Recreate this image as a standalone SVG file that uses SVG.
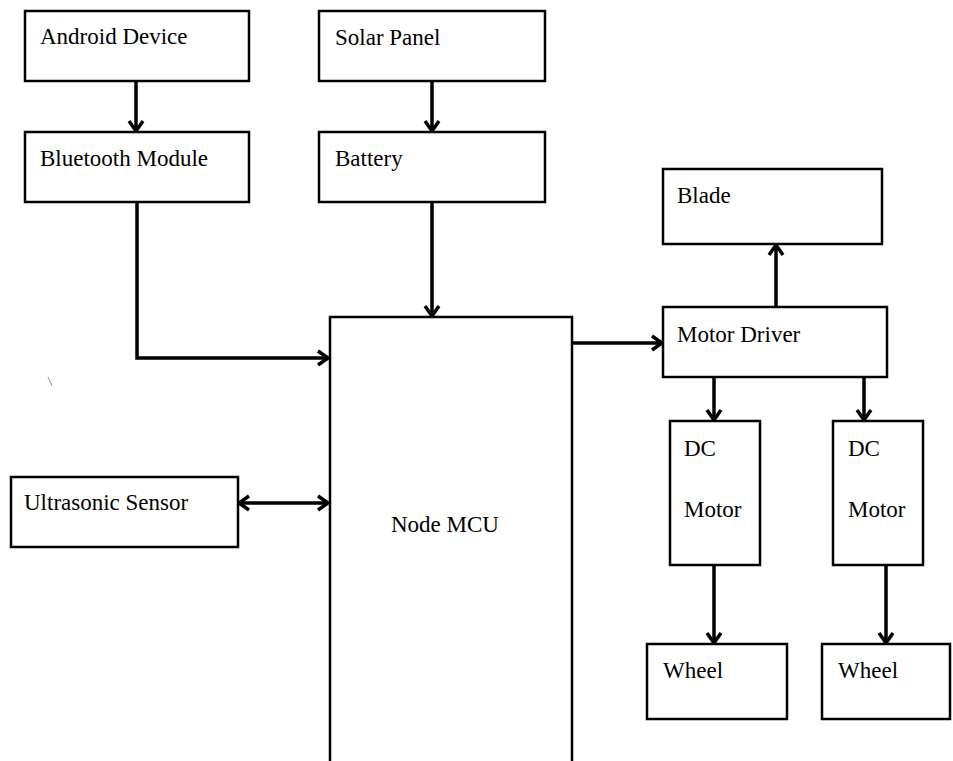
<svg xmlns="http://www.w3.org/2000/svg" width="953" height="761" viewBox="0 0 953 761">
<style>
.box{fill:#fff;stroke:#000;stroke-width:2.5}
.lbl{font-family:'Liberation Serif','DejaVu Serif',serif;font-size:23px;fill:#000}
.con{fill:none;stroke:#000;stroke-width:3.5}
</style>
<defs>
<marker id="arr" markerUnits="userSpaceOnUse" markerWidth="16" markerHeight="18" viewBox="0 0 16 18" refX="14" refY="9" orient="auto-start-reverse">
<path d="M4,2 L14,9 L4,16" fill="none" stroke="#000" stroke-width="3.5" stroke-linejoin="miter"/>
</marker>
</defs>
<rect width="953" height="761" fill="#fff"/>
<g id="android"><rect class="box" x="25" y="11" width="224" height="70"/><text class="lbl" x="40" y="44" font-family="Liberation Serif">Android Device</text></g>
<g id="bluetooth"><rect class="box" x="25" y="132" width="224" height="70"/><text class="lbl" x="40" y="166">Bluetooth Module</text></g>
<g id="solar"><rect class="box" x="319" y="11" width="226" height="70"/><text class="lbl" x="335" y="45">Solar Panel</text></g>
<g id="battery"><rect class="box" x="319" y="132" width="226" height="70"/><text class="lbl" x="335" y="166">Battery</text></g>
<g id="nodemcu"><rect class="box" x="330" y="317" width="242" height="460"/><text class="lbl" x="391" y="532">Node MCU</text></g>
<g id="ultrasonic"><rect class="box" x="11" y="477" width="227" height="70"/><text class="lbl" x="24" y="510">Ultrasonic Sensor</text></g>
<g id="blade"><rect class="box" x="663" y="169" width="219" height="75"/><text class="lbl" x="677" y="203">Blade</text></g>
<g id="motordriver"><rect class="box" x="663" y="307" width="224" height="70"/><text class="lbl" x="677" y="342">Motor Driver</text></g>
<g id="dcmotor1"><rect class="box" x="670" y="421" width="90" height="144"/><text class="lbl" x="684" y="456">DC</text><text class="lbl" x="684" y="517">Motor</text></g>
<g id="dcmotor2"><rect class="box" x="833" y="421" width="90" height="144"/><text class="lbl" x="848" y="456">DC</text><text class="lbl" x="848" y="517">Motor</text></g>
<g id="wheel1"><rect class="box" x="647" y="644" width="140" height="75"/><text class="lbl" x="663" y="678">Wheel</text></g>
<g id="wheel2"><rect class="box" x="822" y="644" width="128" height="75"/><text class="lbl" x="838" y="678">Wheel</text></g>
<g id="connectors">
<line class="con" x1="136" y1="81" x2="136" y2="131" marker-end="url(#arr)"/>
<line class="con" x1="432" y1="81" x2="432" y2="131" marker-end="url(#arr)"/>
<line class="con" x1="432" y1="202" x2="432" y2="316" marker-end="url(#arr)"/>
<polyline class="con" points="137,202 137,358 328,358" marker-end="url(#arr)"/>
<line class="con" x1="239" y1="503" x2="328" y2="503" marker-start="url(#arr)" marker-end="url(#arr)"/>
<line class="con" x1="572" y1="343" x2="662" y2="343" marker-end="url(#arr)"/>
<line class="con" x1="776" y1="307" x2="776" y2="245" marker-end="url(#arr)"/>
<line class="con" x1="714" y1="377" x2="714" y2="420" marker-end="url(#arr)"/>
<line class="con" x1="864" y1="377" x2="864" y2="420" marker-end="url(#arr)"/>
<line class="con" x1="714" y1="565" x2="714" y2="643" marker-end="url(#arr)"/>
<line class="con" x1="886" y1="565" x2="886" y2="643" marker-end="url(#arr)"/>
</g>
<line x1="48" y1="377" x2="52" y2="386" stroke="#8a9aa8" stroke-width="1"/>
</svg>
